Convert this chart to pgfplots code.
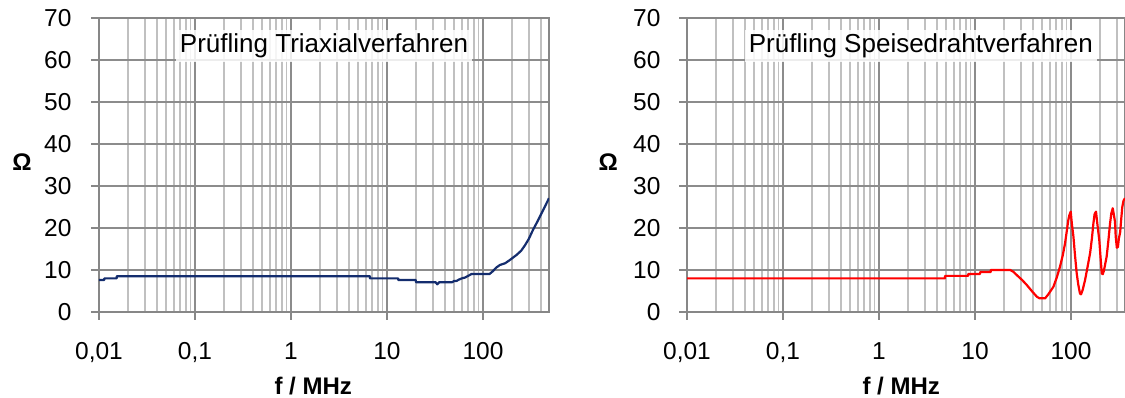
\documentclass[border=0pt]{standalone}
\usepackage{fontspec}
\setmainfont{Liberation Sans}
\usepackage{pgfplots}
\pgfplotsset{compat=1.18}
\definecolor{navyline}{RGB}{20,45,110}
\definecolor{majgrid}{RGB}{140,140,140}
\definecolor{mingrid}{RGB}{192,192,192}
\definecolor{axline}{RGB}{135,135,135}
\begin{document}
\begin{tikzpicture}
\useasboundingbox (0,0) rectangle (1125pt,398pt);
\begin{axis}[
    scale only axis, anchor=south west, at={(99pt,86pt)}, width=450pt, xmax=487,
    height=294pt, xmode=log, ymin=0, ymax=70, xmin=0.01,
    xtick={0.01,0.1,1,10,100},
    xticklabels={{0,01},{0,1},{1},{10},{100}},
    minor xtick={0.02,0.03,0.04,0.05,0.06,0.07,0.08,0.09,0.2,0.3,0.4,0.5,0.6,0.7,0.8,0.9,2,3,4,5,6,7,8,9,20,30,40,50,60,70,80,90,200,300,400},
    ytick={0,10,...,70},
    /pgf/number format/assume math mode=true,
    grid=both,
    major grid style={majgrid, line width=1.7pt},
    minor grid style={mingrid, line width=1.7pt},
    axis line style={axline, line width=1.7pt},
    tick align=outside, tick pos=left,
    major tick length=8pt, minor tick length=0pt,
    tick style={axline, line width=1.7pt},
    ticklabel style={font=\fontsize{24.5}{24.5}\selectfont},
    yticklabel style={xshift=-16pt},
    xticklabel style={yshift=-19pt},
    xlabel={\textbf{f / MHz}},
    xlabel style={font=\fontsize{24}{24}\selectfont, at={(axis description cs:0.476,-0.282)}, anchor=base},
    ylabel={\textbf{Ω}},
    ylabel style={font=\fontsize{24}{24}\selectfont, rotate=-90, anchor=center, at={(axis description cs:-0.171,0.51)}},
]
\addplot[navyline, line width=2.2pt, line join=round] coordinates {
(0.01,7.6) (0.01135,7.6) (0.01135,8.0) (0.0153,8.0) (0.0153,8.5) (6.65,8.5) (6.65,8.0) (13.1,8.0) (13.1,7.6) (20,7.6) (20,7.1) (32,7.1) (33.4,6.6) (35,7.1) (48,7.1) (50,7.4) (53,7.4) (56,7.7) (60,8.0) (65,8.2) (70,8.6) (76,9.05) (117,9.05) (125,9.6) (138,10.6) (150,11.2) (170,11.6) (191,12.4) (224,13.6) (250,14.6) (274,15.9) (300,17.4) (331,19.5) (370,21.6) (407,23.5) (450,25.5) (487,27.1)
};
\node[fill=white, fill opacity=0.85, text opacity=1, inner sep=4pt, anchor=base, font=\fontsize{26}{26}\selectfont] at (rel axis cs:0.5,0.881) {Prüfling Triaxialverfahren};
\end{axis}
\begin{axis}[
    scale only axis, anchor=south west, at={(687pt,86pt)}, width=438pt, xmax=365,
    height=294pt, xmode=log, ymin=0, ymax=70, xmin=0.01,
    xtick={0.01,0.1,1,10,100},
    xticklabels={{0,01},{0,1},{1},{10},{100}},
    minor xtick={0.02,0.03,0.04,0.05,0.06,0.07,0.08,0.09,0.2,0.3,0.4,0.5,0.6,0.7,0.8,0.9,2,3,4,5,6,7,8,9,20,30,40,50,60,70,80,90,200,300},
    ytick={0,10,...,70},
    /pgf/number format/assume math mode=true,
    grid=both,
    major grid style={majgrid, line width=1.7pt},
    minor grid style={mingrid, line width=1.7pt},
    axis line style={axline, line width=1.7pt},
    tick align=outside, tick pos=left,
    major tick length=8pt, minor tick length=0pt,
    tick style={axline, line width=1.7pt},
    ticklabel style={font=\fontsize{24.5}{24.5}\selectfont},
    yticklabel style={xshift=-15pt},
    xticklabel style={yshift=-19pt},
    xlabel={\textbf{f / MHz}},
    xlabel style={font=\fontsize{24}{24}\selectfont, at={(axis description cs:0.489,-0.282)}, anchor=base},
    ylabel={\textbf{Ω}},
    ylabel style={font=\fontsize{24}{24}\selectfont, rotate=-90, anchor=center, at={(axis description cs:-0.18,0.51)}},
]
\addplot[red, line width=2.2pt, line join=round] coordinates {
(0.01,8.0) (4.87,8.0) (4.87,8.6) (8.5,8.6) (8.5,9.05) (11.3,9.05) (11.3,9.5) (14.6,9.5) (14.6,10.0) (23.2,10.0) (25,9.6) (27.2,8.8) (31,7.6) (34.7,6.4) (39,5.0) (44,3.65) (47,3.25) (53.7,3.25) (58,4.2) (65.5,6.0) (71,8.2) (76.8,10.8) (82,13.5) (86.6,16.3) (90,19) (93.7,21.9) (96,23) (99.3,23.9) (102,21) (106,17.9) (110,13.5) (114.6,9.2) (119,6.5) (124,4.4) (127,4.2) (132,5.2) (140,7.6) (148,10.5) (158,14) (165,17.5) (171,21.1) (176,23.3) (182,23.9) (188,21) (197,17.1) (203,13) (209,9.2) (214,9.0) (220,9.8) (235,13.2) (245,17) (255,21.1) (263,23.5) (272,24.7) (280,23) (287,21.5) (292,18) (300,15.3) (308,15.5) (315,17.5) (325,19) (333,22) (342,25) (352,26.5) (365,27.1)
};
\node[fill=white, fill opacity=0.85, text opacity=1, inner sep=4pt, anchor=base, font=\fontsize{26}{26}\selectfont] at (rel axis cs:0.534,0.881) {Prüfling Speisedrahtverfahren};
\end{axis}
\end{tikzpicture}
\end{document}
